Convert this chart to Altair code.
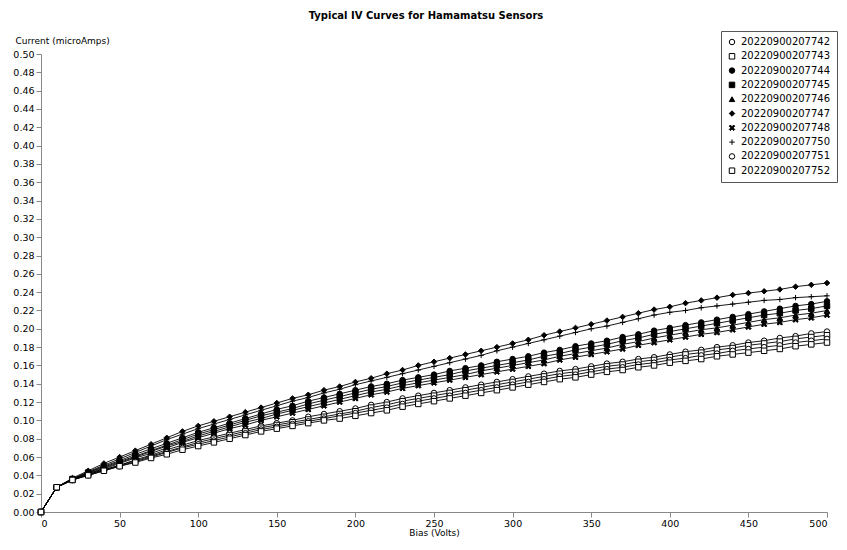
import altair as alt
import pandas as pd

bias = list(range(0, 501, 10))

sensors = ["20220900207742", "20220900207743", "20220900207744", "20220900207745",
           "20220900207746", "20220900207747", "20220900207748", "20220900207750",
           "20220900207751", "20220900207752"]

s7747 = [0, 0.027, 0.037, 0.045, 0.053, 0.060, 0.067, 0.074, 0.081, 0.088, 0.094,
         0.099, 0.104, 0.109, 0.114, 0.119, 0.124, 0.128, 0.133, 0.137, 0.142,
         0.146, 0.151, 0.155, 0.160, 0.164, 0.168, 0.172, 0.176, 0.180, 0.184,
         0.188, 0.193, 0.197, 0.201, 0.205, 0.209, 0.213, 0.217, 0.221, 0.224,
         0.228, 0.231, 0.234, 0.237, 0.239, 0.241, 0.243, 0.246, 0.248, 0.250]
s7750 = [0, 0.027, 0.036, 0.044, 0.051, 0.058, 0.065, 0.072, 0.079, 0.085, 0.091,
         0.096, 0.101, 0.106, 0.111, 0.116, 0.121, 0.125, 0.130, 0.134, 0.139,
         0.143, 0.147, 0.151, 0.155, 0.159, 0.163, 0.167, 0.171, 0.176, 0.180,
         0.184, 0.188, 0.192, 0.196, 0.200, 0.203, 0.207, 0.211, 0.215, 0.218,
         0.220, 0.223, 0.225, 0.227, 0.229, 0.231, 0.232, 0.234, 0.235, 0.236]
s7744 = [0, 0.027, 0.036, 0.043, 0.050, 0.056, 0.063, 0.069, 0.075, 0.081, 0.087,
         0.092, 0.097, 0.102, 0.107, 0.112, 0.116, 0.121, 0.125, 0.129, 0.133,
         0.137, 0.140, 0.144, 0.147, 0.150, 0.154, 0.157, 0.160, 0.164, 0.167,
         0.170, 0.174, 0.177, 0.181, 0.184, 0.187, 0.191, 0.194, 0.198, 0.201,
         0.204, 0.207, 0.210, 0.213, 0.216, 0.219, 0.222, 0.225, 0.227, 0.230]
s7745 = [0, 0.027, 0.036, 0.043, 0.049, 0.055, 0.061, 0.067, 0.073, 0.079, 0.085,
         0.090, 0.095, 0.100, 0.105, 0.109, 0.113, 0.118, 0.122, 0.126, 0.130,
         0.134, 0.137, 0.141, 0.144, 0.147, 0.150, 0.154, 0.157, 0.160, 0.163,
         0.166, 0.170, 0.173, 0.177, 0.180, 0.183, 0.187, 0.190, 0.194, 0.197,
         0.200, 0.203, 0.206, 0.209, 0.212, 0.215, 0.217, 0.220, 0.222, 0.225]
s7746 = [0, 0.027, 0.036, 0.042, 0.048, 0.054, 0.060, 0.066, 0.072, 0.077, 0.083,
         0.088, 0.093, 0.098, 0.102, 0.107, 0.111, 0.115, 0.119, 0.123, 0.127,
         0.131, 0.134, 0.138, 0.141, 0.144, 0.147, 0.150, 0.154, 0.157, 0.160,
         0.163, 0.166, 0.170, 0.173, 0.176, 0.179, 0.183, 0.186, 0.190, 0.193,
         0.196, 0.199, 0.201, 0.204, 0.207, 0.210, 0.212, 0.215, 0.217, 0.220]
s7748 = [0, 0.027, 0.036, 0.042, 0.047, 0.053, 0.059, 0.064, 0.070, 0.076, 0.081,
         0.086, 0.091, 0.095, 0.100, 0.104, 0.108, 0.112, 0.116, 0.120, 0.124,
         0.128, 0.131, 0.135, 0.138, 0.141, 0.144, 0.147, 0.150, 0.153, 0.156,
         0.159, 0.162, 0.166, 0.169, 0.172, 0.175, 0.178, 0.182, 0.185, 0.188,
         0.191, 0.194, 0.196, 0.199, 0.202, 0.205, 0.207, 0.210, 0.212, 0.215]
s7742 = [0, 0.027, 0.035, 0.041, 0.046, 0.051, 0.057, 0.062, 0.068, 0.073, 0.078,
         0.082, 0.086, 0.090, 0.094, 0.097, 0.100, 0.104, 0.107, 0.110, 0.113,
         0.117, 0.120, 0.124, 0.127, 0.130, 0.133, 0.136, 0.139, 0.142, 0.145,
         0.148, 0.151, 0.154, 0.156, 0.159, 0.162, 0.164, 0.167, 0.169, 0.172,
         0.175, 0.177, 0.180, 0.182, 0.185, 0.187, 0.190, 0.192, 0.195, 0.197]
s7743 = [0, 0.027, 0.035, 0.041, 0.046, 0.051, 0.056, 0.061, 0.066, 0.071, 0.076,
         0.080, 0.084, 0.088, 0.092, 0.095, 0.098, 0.101, 0.104, 0.107, 0.110,
         0.114, 0.117, 0.121, 0.124, 0.127, 0.130, 0.133, 0.136, 0.139, 0.142,
         0.145, 0.148, 0.151, 0.153, 0.156, 0.159, 0.161, 0.164, 0.166, 0.169,
         0.172, 0.174, 0.177, 0.179, 0.182, 0.184, 0.186, 0.189, 0.191, 0.193]
s7751 = [0, 0.027, 0.035, 0.040, 0.045, 0.050, 0.055, 0.060, 0.065, 0.070, 0.074,
         0.078, 0.082, 0.086, 0.090, 0.093, 0.096, 0.099, 0.102, 0.105, 0.108,
         0.111, 0.114, 0.118, 0.121, 0.124, 0.127, 0.130, 0.133, 0.136, 0.139,
         0.142, 0.145, 0.148, 0.150, 0.153, 0.156, 0.158, 0.161, 0.163, 0.166,
         0.168, 0.171, 0.173, 0.176, 0.178, 0.180, 0.182, 0.185, 0.187, 0.189]
s7752 = [0, 0.027, 0.035, 0.040, 0.045, 0.050, 0.054, 0.059, 0.063, 0.068, 0.072,
         0.076, 0.080, 0.084, 0.088, 0.091, 0.094, 0.097, 0.100, 0.102, 0.105,
         0.108, 0.111, 0.115, 0.118, 0.121, 0.124, 0.127, 0.130, 0.133, 0.136,
         0.139, 0.142, 0.145, 0.147, 0.150, 0.153, 0.155, 0.158, 0.160, 0.163,
         0.165, 0.167, 0.170, 0.172, 0.174, 0.176, 0.178, 0.181, 0.183, 0.185]

series = [s7742, s7743, s7744, s7745, s7746, s7747, s7748, s7750, s7751, s7752]

rows = []
for name, vals in zip(sensors, series):
    for b, c in zip(bias, vals):
        rows.append({"sensor": name, "bias": b, "current": c})
df = pd.DataFrame(rows)

X_PATH = ("M-1,-0.6L-0.6,-1L0,-0.4L0.6,-1L1,-0.6L0.4,0L1,0.6L0.6,1L0,0.4"
          "L-0.6,1L-1,0.6L-0.4,0Z")
PLUS_PATH = "M-1,0L1,0M0,-1L0,1"

shape_range = ["circle", "square", "circle", "square", "triangle-up", "diamond",
               X_PATH, PLUS_PATH, "circle", "square"]
fill_range = ["white", "white", "black", "black", "black", "black", "black",
              "black", "white", "white"]
stroke_range = ["black"] * 10

y_ticks = [round(i * 0.02, 2) for i in range(26)]
x_ticks = list(range(0, 501, 50))

legend = alt.Legend(title=None, orient="none", legendX=680, legendY=-23,
                    strokeColor="#555", fillColor="white", padding=6,
                    labelFont="DejaVu Sans", labelFontSize=10, labelColor="black",
                    symbolSize=30, symbolStrokeWidth=1,
                    rowPadding=4.3, labelOffset=4)

x_enc = alt.X("bias:Q", scale=alt.Scale(domain=[0, 500], nice=False),
              axis=alt.Axis(values=x_ticks, title="Bias (Volts)", grid=False,
                            format="d", titlePadding=1, labelPadding=1))
y_enc = alt.Y("current:Q", scale=alt.Scale(domain=[0, 0.5], nice=False),
              axis=alt.Axis(values=y_ticks, format=".2f", grid=False,
                            title="Current (microAmps)", titleAngle=0,
                            titleAlign="left", titleBaseline="middle",
                            titleX=-26, titleY=-14))

lines = alt.Chart(df).mark_line(color="black", strokeWidth=0.9).encode(
    x=x_enc, y=y_enc, detail="sensor:N")

points = alt.Chart(df).mark_point(filled=True, strokeWidth=1,
                                  size=30, opacity=1).encode(
    x=x_enc, y=y_enc,
    shape=alt.Shape("sensor:N", scale=alt.Scale(domain=sensors, range=shape_range),
                    legend=legend),
    fill=alt.Fill("sensor:N", scale=alt.Scale(domain=sensors, range=fill_range),
                  legend=legend),
    stroke=alt.Stroke("sensor:N", scale=alt.Scale(domain=sensors, range=stroke_range),
                      legend=legend),
)

chart = alt.layer(lines, points).properties(
    width=786, height=458,
    padding={"left": 4, "top": 2, "right": 0, "bottom": 0},
    title=alt.TitleParams("Typical IV Curves for Hamamatsu Sensors",
                          font="DejaVu Sans", fontSize=10, fontWeight="bold",
                          anchor="middle", offset=10, dx=-8, color="black"),
).configure_view(stroke=None).configure_axis(
    domainColor="#888", tickColor="#888", tickSize=5,
    labelFont="DejaVu Sans", labelFontSize=9.5, labelColor="black",
    titleFont="DejaVu Sans", titleFontSize=9, titleFontWeight="normal",
    titleColor="black",
)

chart.save("out.html", embed_options={"renderer": "svg", "actions": False})
